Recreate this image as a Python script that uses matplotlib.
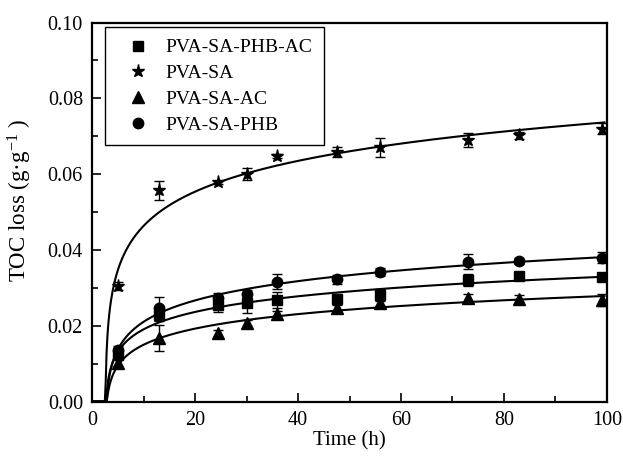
import numpy as np
import matplotlib as mpl
mpl.use('Agg')
import matplotlib.pyplot as plt
from matplotlib.lines import Line2D

plt.rcParams['font.family'] = ['Liberation Serif', 'DejaVu Serif']
plt.rcParams['mathtext.fontset'] = 'custom'
plt.rcParams['mathtext.rm'] = 'Liberation Serif'
plt.rcParams['mathtext.it'] = 'Liberation Serif:italic'

# sampling times (h)
time_h = [5, 13, 24.5, 30, 36, 47.5, 56, 73, 83, 99]

labels = ['PVA-SA-PHB-AC', 'PVA-SA', 'PVA-SA-AC', 'PVA-SA-PHB']
markers = ['s', '*', '^', 'o']
marker_sizes = [7, 9.5, 8, 7.5]

# TOC loss (g/g)
toc_phb_ac = [0.0123, 0.0228, 0.0255, 0.0259, 0.0268, 0.0270, 0.0281, 0.0321, 0.0331, 0.0329]
toc_sa = [0.0305, 0.0558, 0.0578, 0.0600, 0.0648, 0.0658, 0.0671, 0.0690, 0.0702, 0.0720]
toc_ac = [0.0101, 0.0167, 0.0180, 0.0206, 0.0230, 0.0248, 0.0261, 0.0272, 0.0270, 0.0268]
toc_phb = [0.0136, 0.0246, 0.0272, 0.0285, 0.0316, 0.0322, 0.0341, 0.0369, 0.0372, 0.0380]

err_phb_ac = [0.0010, 0.0015, 0.0020, 0.0025, 0.0020, 0.0015, 0.0015, 0.0015, 0.0008, 0.0010]
err_sa = [0.0010, 0.0025, 0.0005, 0.0015, 0.0005, 0.0013, 0.0025, 0.0018, 0.0010, 0.0015]
err_ac = [0.0010, 0.0035, 0.0010, 0.0010, 0.0010, 0.0015, 0.0010, 0.0012, 0.0010, 0.0015]
err_phb = [0.0010, 0.0030, 0.0015, 0.0010, 0.0020, 0.0012, 0.0010, 0.0020, 0.0008, 0.0015]

series = [toc_phb_ac, toc_sa, toc_ac, toc_phb]
errors = [err_phb_ac, err_sa, err_ac, err_phb]

# lag time of the logarithmic fit curves (h)
t_lag = 2.5


def main():
    fig = plt.figure(figsize=(6.23, 4.57), dpi=100)
    ax = fig.add_axes([0.1477, 0.1214, 0.8266, 0.8293])

    t = np.asarray(time_h)
    t_fit = np.linspace(0, 99.5, 600)
    for vals, errs, mk, ms in zip(series, errors, markers, marker_sizes):
        ax.errorbar(t, vals, yerr=errs, fmt=mk, ms=ms, color='k', mfc='k', mec='k',
                    ecolor='k', elinewidth=1, capsize=3.5, capthick=1, zorder=3)
        # log fit  y = a*ln(t - t_lag) + b
        a, b = np.polyfit(np.log(t - t_lag), vals, 1)
        y_fit = np.zeros_like(t_fit)
        ok = t_fit > t_lag
        y_fit[ok] = a * np.log(t_fit[ok] - t_lag) + b
        y_fit = np.clip(y_fit, 0, None)
        ax.plot(t_fit, y_fit, '-', color='k', lw=1.5, zorder=2)

    ax.set_xlim(0, 100)
    ax.set_ylim(0, 0.10)
    ax.set_xticks(np.arange(0, 101, 20))
    ax.set_xticks(np.arange(10, 100, 20), minor=True)
    ax.set_yticks(np.arange(0, 0.101, 0.02))
    ax.set_yticks(np.arange(0.01, 0.1, 0.02), minor=True)
    ax.yaxis.set_major_formatter(mpl.ticker.FormatStrFormatter('%.2f'))

    ax.tick_params(axis='both', which='major', direction='in', length=6.5, width=1.2,
                   labelsize=14.5, pad=6.5)
    ax.tick_params(axis='both', which='minor', direction='in', length=4.5, width=1.2)
    ax.tick_params(axis='x', which='major', pad=6.5)
    for sp in ax.spines.values():
        sp.set_linewidth(1.6)

    ax.set_xlabel('Time (h)', fontsize=15, labelpad=1)
    ax.set_ylabel('TOC loss (g·g$^{-1}$ )', fontsize=16.5)
    ax.yaxis.set_label_coords(-0.112, 0.53)

    handles = [Line2D([], [], ls='none', marker=mk, ms=ms, color='k')
               for mk, ms in zip(markers, marker_sizes)]
    leg = ax.legend(handles, labels, loc='upper left', bbox_to_anchor=(0.025, 0.988),
                    borderaxespad=0, fontsize=14, frameon=True, fancybox=False,
                    framealpha=1, edgecolor='k', borderpad=0.6, labelspacing=0.42,
                    handlelength=2.2, handletextpad=0.3)
    leg.get_frame().set_linewidth(1.0)

    plt.savefig('out.png', dpi=100)


if __name__ == '__main__':
    main()
